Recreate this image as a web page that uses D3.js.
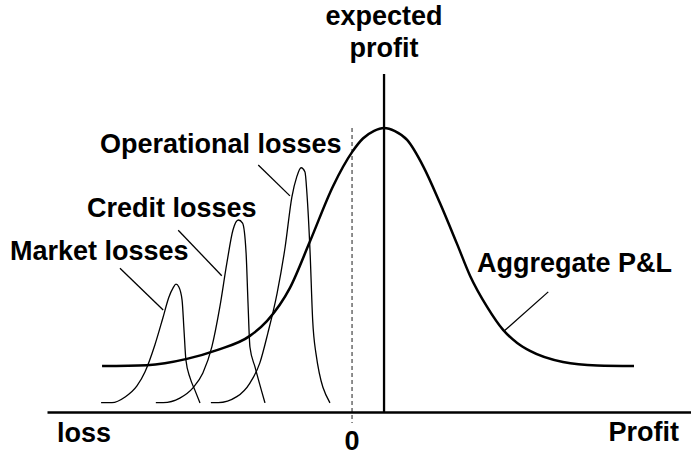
<!DOCTYPE html>
<html>
<head>
<meta charset="utf-8">
<script src="https://cdn.jsdelivr.net/npm/d3@7"></script>
<style>
  html, body { margin: 0; padding: 0; background: #fff; }
  svg { display: block; }
  text { font-family: "Liberation Sans", Arial, Helvetica, sans-serif; font-weight: bold; fill: #000; }
</style>
</head>
<body>
<svg id="chart" width="691" height="456"></svg>
<script>
// P&L units: 0 = break-even, 1 = expected profit. Density units: 1 = peak of aggregate distribution.
const aggregateX = [-7.81, -6.41, -5.16, -4.22, -3.19, -2.66, -1.94, -1.31, -0.59, 0, 0.34, 0.69, 1.0, 1.34, 1.72, 2.22, 2.75, 3.28, 3.69, 4.22, 4.72, 5.16, 5.56, 6.59, 7.66, 8.81];
const aggregateY = [0.162, 0.165, 0.187, 0.218, 0.268, 0.320, 0.437, 0.602, 0.796, 0.915, 0.963, 0.990, 1.0, 0.989, 0.958, 0.866, 0.735, 0.592, 0.479, 0.370, 0.289, 0.243, 0.215, 0.176, 0.164, 0.162];

const marketX = [-7.84, -7.5, -7.09, -6.72, -6.47, -6.16, -5.91, -5.72, -5.59, -5.5, -5.41, -5.31, -5.25, -5.19, -5.06, -4.91, -4.75];
const marketY = [0.033, 0.033, 0.053, 0.092, 0.141, 0.236, 0.331, 0.405, 0.437, 0.450, 0.440, 0.394, 0.289, 0.183, 0.120, 0.077, 0.032];

const creditX = [-6.13, -5.9, -5.38, -4.97, -4.66, -4.38, -4.13, -3.91, -3.72, -3.55, -3.42, -3.31, -3.25, -3.19, -3.03, -2.72];
const creditY = [0.033, 0.033, 0.049, 0.085, 0.137, 0.229, 0.370, 0.525, 0.641, 0.676, 0.665, 0.560, 0.384, 0.229, 0.158, 0.032];

const operationalX = [-4.41, -4.18, -3.6, -3.19, -2.88, -2.63, -2.34, -2.09, -1.88, -1.73, -1.59, -1.47, -1.41, -1.31, -1.23, -1.13, -0.69];
const operationalY = [0.033, 0.033, 0.054, 0.102, 0.173, 0.278, 0.419, 0.581, 0.757, 0.827, 0.860, 0.845, 0.771, 0.560, 0.324, 0.208, 0.032];

const expectedProfit = 1.0;
const breakEven = 0;

// Callout labels and the curve point each leader line touches (from label end to curve end)
const calloutNames = ["Market losses", "Credit losses", "Operational losses", "Aggregate P&L"];
const calloutFrom = [[-7.25, 0.506], [-5.43, 0.640], [-2.93, 0.870], [6.13, 0.423]];
const calloutTo   = [[-5.9, 0.359], [-4.07, 0.480], [-1.94, 0.761], [4.75, 0.285]];

const axisLabels = ["loss", "0", "Profit"];

const svg = d3.select("#chart");
const x = d3.scaleLinear().domain([-9.53, 10.59]).range([47, 691]);
const y = d3.scaleLinear().domain([0, 1]).range([412, 128]);

const line = d3.line().x(d => x(d[0])).y(d => y(d[1])).curve(d3.curveMonotoneX);
const zip = (xs, ys) => xs.map((v, i) => [v, ys[i]]);

// break-even marker (dashed)
svg.append("line")
  .attr("x1", x(breakEven)).attr("x2", x(breakEven))
  .attr("y1", y(1.0)).attr("y2", y(-0.039))
  .attr("stroke", "#333").attr("stroke-width", 1.1)
  .attr("stroke-dasharray", "4,3");

// loss distributions by risk type
[[marketX, marketY], [creditX, creditY], [operationalX, operationalY]].forEach(([xs, ys]) => {
  svg.append("path")
    .attr("d", line(zip(xs, ys)))
    .attr("fill", "none").attr("stroke", "#000").attr("stroke-width", 1.3);
});

// aggregate P&L distribution
svg.append("path")
  .attr("d", line(zip(aggregateX, aggregateY)))
  .attr("fill", "none").attr("stroke", "#000").attr("stroke-width", 2.5);

// expected profit marker
svg.append("line")
  .attr("x1", x(expectedProfit)).attr("x2", x(expectedProfit))
  .attr("y1", y(1.19)).attr("y2", y(0))
  .attr("stroke", "#000").attr("stroke-width", 2.3);

// horizontal P&L axis
const axis = svg.append("g")
  .attr("transform", `translate(0,${y(0)})`)
  .call(d3.axisBottom(x).tickValues([]).tickSizeOuter(0));
axis.select(".domain").attr("stroke", "#000").attr("stroke-width", 2.6);

// leader lines
calloutNames.forEach((name, i) => {
  svg.append("line")
    .attr("x1", x(calloutFrom[i][0])).attr("y1", y(calloutFrom[i][1]))
    .attr("x2", x(calloutTo[i][0])).attr("y2", y(calloutTo[i][1]))
    .attr("stroke", "#000").attr("stroke-width", 1.3);
});

const fs = 27;
const labelPos = [[10, 260], [87, 217], [100, 153], [477, 272]];
calloutNames.forEach((name, i) => {
  svg.append("text")
    .attr("x", labelPos[i][0]).attr("y", labelPos[i][1])
    .attr("font-size", fs)
    .text(name);
});

// title above the expected-profit marker
svg.append("text")
  .attr("x", x(expectedProfit)).attr("y", 25)
  .attr("text-anchor", "middle").attr("font-size", fs)
  .text("expected");
svg.append("text")
  .attr("x", x(expectedProfit)).attr("y", 57)
  .attr("text-anchor", "middle").attr("font-size", fs)
  .text("profit");

// axis end labels
svg.append("text").attr("x", 57).attr("y", 442).attr("font-size", fs).text(axisLabels[0]);
svg.append("text").attr("x", x(breakEven)).attr("y", 450).attr("text-anchor", "middle").attr("font-size", fs).text(axisLabels[1]);
svg.append("text").attr("x", 679).attr("y", 441).attr("text-anchor", "end").attr("font-size", fs).text(axisLabels[2]);
</script>
</body>
</html>
